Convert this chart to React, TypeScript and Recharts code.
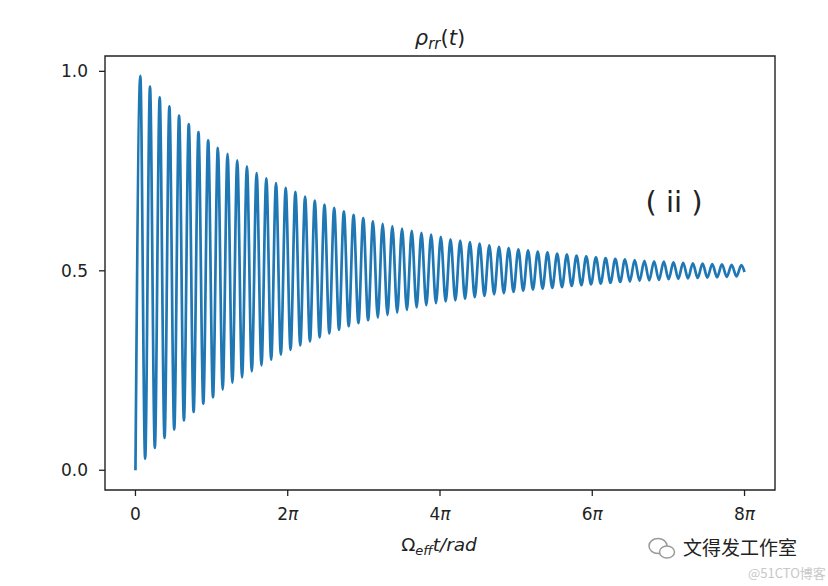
import React from "react";
import { LineChart, Line, XAxis, YAxis, ReferenceArea } from "recharts";

// Local maxima of rho_rr(t), one per oscillation period
const PEAKS = [
  0.989, 0.962, 0.935, 0.912, 0.889, 0.868, 0.848, 0.827, 0.808, 0.793,
  0.777, 0.762, 0.745, 0.732, 0.720, 0.708, 0.698, 0.686, 0.676, 0.666,
  0.658, 0.649, 0.640, 0.632, 0.624, 0.618, 0.612, 0.606, 0.600, 0.595,
  0.591, 0.585, 0.579, 0.576, 0.572, 0.568, 0.564, 0.560, 0.557, 0.554,
  0.551, 0.548, 0.546, 0.543, 0.541, 0.538, 0.536, 0.534, 0.532, 0.530,
  0.529, 0.527, 0.525, 0.524, 0.523, 0.521, 0.520, 0.519, 0.518, 0.517,
  0.516, 0.515, 0.514,
];
// Local minima of rho_rr(t) (first one is the starting value at t = 0)
const TROUGHS = [
  0.000, 0.029, 0.056, 0.081, 0.102, 0.125, 0.146, 0.167, 0.183, 0.202,
  0.219, 0.233, 0.248, 0.263, 0.277, 0.290, 0.302, 0.313, 0.323, 0.333,
  0.343, 0.352, 0.361, 0.369, 0.376, 0.383, 0.389, 0.395, 0.402, 0.408,
  0.414, 0.419, 0.423, 0.426, 0.430, 0.434, 0.437, 0.441, 0.444, 0.447,
  0.450, 0.453, 0.455, 0.457, 0.459, 0.462, 0.464, 0.466, 0.468, 0.470,
  0.472, 0.473, 0.475, 0.476, 0.477, 0.479, 0.480, 0.481, 0.482, 0.483,
  0.484, 0.485, 0.486,
];
const END_VALUE = 0.497; // value at t = 8π
const PERIOD = 0.4; // oscillation period in rad (read from peak spacing)

const X_TICK_MULTIPLES = [0, 2, 4, 6, 8]; // multiples of π
const X_TICK_LABELS = ["0", "2π", "4π", "6π", "8π"];
const Y_TICKS = [0, 0.5, 1.0];
const Y_TICK_LABELS = ["0.0", "0.5", "1.0"];

const T_END = 8 * Math.PI;
const X_DOMAIN: [number, number] = [-0.05 * T_END, 1.05 * T_END];
const Y_DOMAIN: [number, number] = [-0.0495, 1.0385];

const data: { t: number; v: number }[] = [];
for (let i = 0; i < PEAKS.length; i++) {
  data.push({ t: i * PERIOD, v: TROUGHS[i] });
  data.push({ t: i * PERIOD + PERIOD / 2, v: PEAKS[i] });
}
data.push({ t: T_END, v: END_VALUE });

const xTicks = X_TICK_MULTIPLES.map((m) => m * Math.PI);

const FONT = "'DejaVu Sans', sans-serif";
const TXT = "#222";

const XTick = (props: any) => {
  const { x, y, index } = props;
  const label: string = X_TICK_LABELS[index] ?? "";
  const hasPi = label.endsWith("π");
  return (
    <text x={x} y={y} dy="0.71em" textAnchor="middle" fontFamily={FONT} fontSize={17} fill={TXT}>
      {hasPi ? (
        <>
          <tspan>{label.slice(0, -1)}</tspan>
          <tspan fontStyle="italic">π</tspan>
        </>
      ) : (
        label
      )}
    </text>
  );
};

const YTick = (props: any) => {
  const { x, y, index } = props;
  return (
    <text x={x} y={y} dy="0.355em" textAnchor="end" fontFamily={FONT} fontSize={17} fill={TXT}>
      {Y_TICK_LABELS[index]}
    </text>
  );
};

export default function App() {
  return (
    <div style={{ position: "absolute", left: 0, top: 0, width: 828, height: 586, background: "#fff" }}>
      <LineChart
        width={828}
        height={586}
        data={data}
        margin={{ top: 56, right: 53, bottom: 0, left: 0 }}
      >
        <XAxis
          dataKey="t"
          type="number"
          domain={X_DOMAIN}
          allowDataOverflow
          ticks={xTicks}
          interval={0}
          height={96}
          axisLine={false}
          tickLine={{ stroke: TXT, strokeWidth: 1.3 }}
          tickSize={6}
          tickMargin={12}
          tick={<XTick />}
        />
        <YAxis
          type="number"
          domain={Y_DOMAIN}
          allowDataOverflow
          ticks={Y_TICKS}
          interval={0}
          width={105}
          axisLine={false}
          tickLine={{ stroke: TXT, strokeWidth: 1.3 }}
          tickSize={6}
          tickMargin={11}
          tick={<YTick />}
        />
        <Line
          dataKey="v"
          type="monotone"
          stroke="#1f77b4"
          strokeWidth={2.7}
          dot={false}
          activeDot={false}
          isAnimationActive={false}
        />
        <ReferenceArea
          x1={X_DOMAIN[0]}
          x2={X_DOMAIN[1]}
          y1={Y_DOMAIN[0]}
          y2={Y_DOMAIN[1]}
          fill="none"
          fillOpacity={0}
          stroke={TXT}
          strokeWidth={1.4}
          ifOverflow="visible"
        />
      </LineChart>
      <svg
        width={828}
        height={586}
        style={{ position: "absolute", left: 0, top: 0, pointerEvents: "none" }}
      >
        <text x={440} y={45} textAnchor="middle" fontFamily={FONT} fontSize={21} fill={TXT}>
          <tspan fontStyle="italic">ρ</tspan>
          <tspan fontStyle="italic" fontSize={15} dy={4}>rr</tspan>
          <tspan dy={-4}>(</tspan>
          <tspan fontStyle="italic">t</tspan>
          <tspan>)</tspan>
        </text>
        <text x={439} y={551} textAnchor="middle" fontFamily={FONT} fontSize={18.5} fill={TXT}>
          <tspan>Ω</tspan>
          <tspan fontStyle="italic" fontSize={13} dy={4}>eff</tspan>
          <tspan fontStyle="italic" dy={-4}>t/rad</tspan>
        </text>
        <text x={674} y={212} textAnchor="middle" fontFamily={FONT} fontSize={29} fill={TXT}>
          ( ii )
        </text>
        <g fill="none" stroke="#9a9a9a" strokeWidth={1.5}>
          <ellipse cx={658} cy={546} rx={9} ry={7.5} />
          <ellipse cx={667} cy={552} rx={7.5} ry={6} fill="#fff" />
        </g>
        <text x={683} y={555} fontFamily="'Noto Sans CJK SC', sans-serif" fontSize={19} fill="#222">
          文得发工作室
        </text>
        <text x={748} y={578} fontFamily="'Noto Sans CJK SC', sans-serif" fontSize={13} fill="#c8c8c8">
          @51CTO博客
        </text>
      </svg>
    </div>
  );
}
